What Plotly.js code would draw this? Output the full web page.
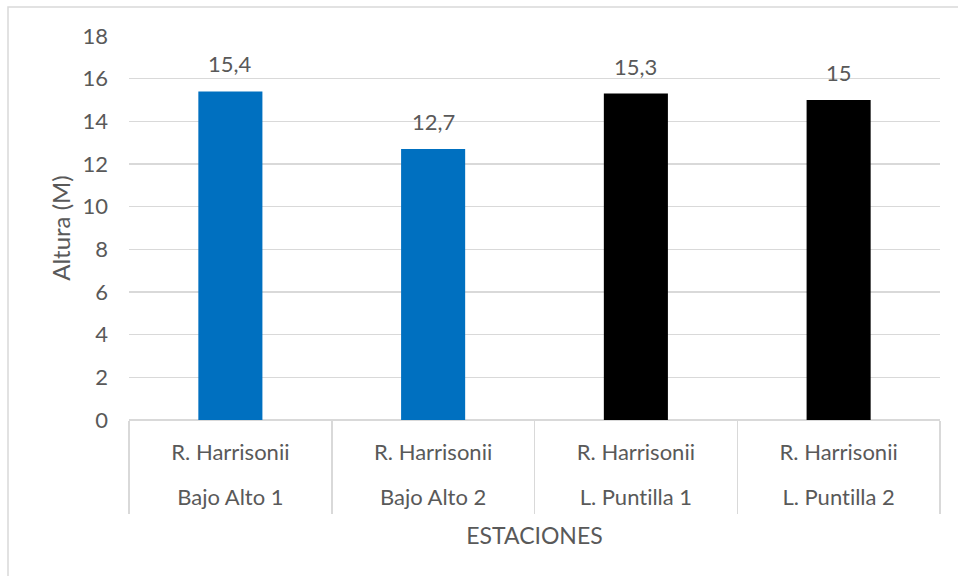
<!DOCTYPE html>
<html>
<head>
<meta charset="utf-8">
<script src="https://cdn.plot.ly/plotly-3.0.1.min.js"></script>
<style>
html,body{margin:0;padding:0;background:#fff;}
#chart{width:958px;height:576px;}
#chart text{font-variant-ligatures:none;font-feature-settings:"liga" 0;}
</style>
</head>
<body>
<div id="chart"></div>
<script>
const stations = ["Bajo Alto 1", "Bajo Alto 2", "L. Puntilla 1", "L. Puntilla 2"];
const species = ["R. Harrisonii", "R. Harrisonii", "R. Harrisonii", "R. Harrisonii"];
const heights = [15.4, 12.7, 15.3, 15];
const barColors = ["#0070C0", "#0070C0", "#000000", "#000000"];
const yTicks = [0, 2, 4, 6, 8, 10, 12, 14, 16, 18];

const FONT = "Lato, 'Open Sans', sans-serif";
const TXT = "#595959";
const GRID = "#D9D9D9";

const labels = heights.map(v => String(v).replace('.', ','));
const idx = stations.map((_, i) => i);
const bounds = [-0.5].concat(stations.map((_, i) => i + 0.5));
const xr = [-0.5, stations.length - 0.5];

const trace = {
  type: 'bar',
  x: stations,
  y: heights,
  width: 0.316,
  marker: {color: barColors},
  hoverinfo: 'none'
};
// invisible helper traces so the overlaid label / divider axes are drawn
const helper2 = {type: 'scatter', mode: 'markers', x: idx, y: heights, xaxis: 'x2', yaxis: 'y',
  marker: {opacity: 0}, hoverinfo: 'none', showlegend: false};
const helper3 = {type: 'scatter', mode: 'markers', x: idx, y: heights, xaxis: 'x3', yaxis: 'y',
  marker: {opacity: 0}, hoverinfo: 'none', showlegend: false};

const annotations = heights.map((v, i) => ({
  x: stations[i], y: v, xref: 'x', yref: 'y',
  text: labels[i], showarrow: false,
  yanchor: 'bottom', yshift: 12,
  font: {family: FONT, size: 22, color: TXT}
}));

const layout = {
  width: 958, height: 576,
  margin: {l: 129, r: 18, t: 36, b: 156},
  paper_bgcolor: '#fff', plot_bgcolor: '#fff',
  font: {family: FONT, color: TXT},
  showlegend: false,
  xaxis: {
    type: 'category',
    categoryarray: stations, categoryorder: 'array',
    range: xr,
    tickmode: 'array', tickvals: stations, ticktext: species,
    showline: false, showgrid: false, zeroline: false,
    ticks: '', ticklabelstandoff: 17,
    tickfont: {family: FONT, size: 22, color: TXT},
    automargin: false
  },
  xaxis2: {
    overlaying: 'x', anchor: 'y', side: 'bottom',
    type: 'linear', range: xr,
    tickmode: 'array', tickvals: idx, ticktext: stations,
    showline: false, showgrid: false, zeroline: false,
    ticks: '', ticklabelstandoff: 62,
    tickfont: {family: FONT, size: 22, color: TXT},
    title: {text: 'ESTACIONES', font: {family: FONT, size: 23, color: TXT}, standoff: 18},
    automargin: false
  },
  xaxis3: {
    overlaying: 'x', anchor: 'y', side: 'bottom',
    type: 'linear', range: xr,
    tickmode: 'array', tickvals: bounds,
    showticklabels: false,
    showline: false, showgrid: false, zeroline: false,
    ticks: 'outside', ticklen: 93, tickwidth: 1.5, tickcolor: GRID,
    automargin: false
  },
  yaxis: {
    range: [0, 18],
    tickvals: yTicks,
    ticktext: yTicks.map(String),
    showgrid: true, gridcolor: GRID, gridwidth: 1.5,
    zeroline: true, zerolinecolor: GRID, zerolinewidth: 1.5,
    showline: false,
    ticks: '', ticklabelstandoff: 20,
    tickfont: {family: FONT, size: 22, color: TXT},
    title: {text: 'Altura (M)', font: {family: FONT, size: 24, color: TXT}, standoff: 5},
    automargin: false
  },
  annotations: annotations,
  shapes: [{
    type: 'rect', xref: 'paper', yref: 'paper',
    x0: (8 - 129) / 811, x1: (975 - 129) / 811,
    y0: (420 - 595) / 384, y1: (420 - 7) / 384,
    line: {color: GRID, width: 1.5}, fillcolor: 'rgba(0,0,0,0)', layer: 'below'
  }]
};

Plotly.newPlot('chart', [trace, helper2, helper3], layout, {displayModeBar: false, staticPlot: true});
</script>
</body>
</html>
